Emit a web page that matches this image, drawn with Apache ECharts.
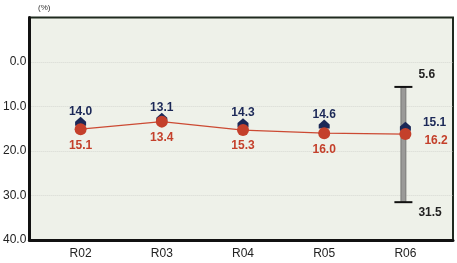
<!DOCTYPE html>
<html><head><meta charset="utf-8">
<script src="https://cdn.jsdelivr.net/npm/echarts@6/dist/echarts.min.js"></script>
<style>html,body{margin:0;padding:0;background:#fff}#c{width:457px;height:263px}</style>
</head><body><div id="c"></div>
<script>
const categories = ['R02','R03','R04','R05','R06'];
const blueValues = [14.0, 13.1, 14.3, 14.6, 15.1];
const redValues = [15.1, 13.4, 15.3, 16.0, 16.2];
const rangeLow = 5.6, rangeHigh = 31.5, rangeIndex = 4;
const yMin = -10, yMax = 40, yStep = 10;
const unitLabel = '(%)';

const FONT = '"Liberation Sans", Arial, sans-serif';
const navy = '#1b2857', red = '#c4402b';

const chart = echarts.init(document.getElementById('c'));
const last = categories.length - 1;
chart.setOption({
  animation: false,
  backgroundColor: '#fff',
  graphic: [{ type: 'text', left: 38, top: 4, style: { text: unitLabel, font: '8px ' + FONT, fill: '#333' } }],
  grid: [
    { left: 29, right: 4, top: 17.5, bottom: 23, show: true, backgroundColor: '#eef1e9', borderColor: '#1f2a1f', borderWidth: 2 },
    { left: 40, right: 11, top: 17.5, bottom: 23 }
  ],
  xAxis: [
    { gridIndex: 0, type: 'category', data: categories, axisLine: { onZero: false, lineStyle: { color: '#111', width: 3 } }, axisTick: { show: false }, axisLabel: { show: false } },
    { gridIndex: 1, type: 'category', data: categories, axisLine: { show: false, onZero: false }, axisTick: { show: false },
      axisLabel: { color: '#222', fontSize: 12, fontFamily: FONT, margin: 8 } }
  ],
  yAxis: [
    { gridIndex: 0, type: 'value', inverse: true, min: yMin, max: yMax, interval: yStep,
      axisLine: { show: true, onZero: false, lineStyle: { color: '#111', width: 3 } }, axisTick: { show: false },
      splitLine: { showMinLine: false, showMaxLine: false, lineStyle: { color: '#d6d8d2', type: 'dotted', width: 1 } },
      axisLabel: { color: '#222', fontSize: 12, fontFamily: FONT, margin: 3,
        formatter: v => v === yMin ? '' : v.toFixed(1) } },
    { gridIndex: 1, type: 'value', inverse: true, min: yMin, max: yMax, interval: yStep, show: false }
  ],
  series: [
    { type: 'custom', xAxisIndex: 1, yAxisIndex: 1, z: 1,
      data: [[rangeIndex, rangeLow, rangeHigh]],
      renderItem: (params, api) => {
        const top = api.coord([api.value(0), api.value(1)]);
        const bot = api.coord([api.value(0), api.value(2)]);
        const x = top[0] - 2;
        return { type: 'group', children: [
          { type: 'rect', shape: { x: x - 2.5, y: top[1], width: 5, height: bot[1] - top[1] }, style: { fill: '#9a9a98', stroke: '#6a6a68', lineWidth: 0.8 } },
          { type: 'line', shape: { x1: x - 9, y1: top[1], x2: x + 9, y2: top[1] }, style: { stroke: '#111', lineWidth: 2 } },
          { type: 'line', shape: { x1: x - 9, y1: bot[1], x2: x + 9, y2: bot[1] }, style: { stroke: '#111', lineWidth: 2 } },
          { type: 'text', x: x + 15, y: top[1] - 12, style: { text: rangeLow.toFixed(1), font: 'bold 12px ' + FONT, fill: '#222', textVerticalAlign: 'middle' } },
          { type: 'text', x: x + 15, y: bot[1] + 11, style: { text: rangeHigh.toFixed(1), font: 'bold 12px ' + FONT, fill: '#222', textVerticalAlign: 'middle' } }
        ] };
      }
    },
    { type: 'scatter', xAxisIndex: 1, yAxisIndex: 1, z: 3,
      symbol: 'path://M0,-6 L6,0 L6,5 L-6,5 L-6,0 Z', symbolSize: [11, 9], symbolOffset: [0, -3],
      itemStyle: { color: navy, opacity: 1 },
      data: blueValues.map((v, i) => ({ value: v,
        label: i === last ? { position: 'right', offset: [8, -4] } : {} })),
      label: { show: true, position: 'top', distance: 4, offset: [0, 5], color: navy, fontWeight: 'bold', fontSize: 12, fontFamily: FONT,
        formatter: p => p.value.toFixed(1) } },
    { type: 'line', xAxisIndex: 1, yAxisIndex: 1, z: 4,
      symbol: 'circle', symbolSize: 12, showAllSymbol: true,
      lineStyle: { color: '#cc4a33', width: 1.3 }, itemStyle: { color: red },
      data: redValues.map((v, i) => ({ value: v,
        label: i === last ? { position: 'right', offset: [9, 7] } : {} })),
      label: { show: true, position: 'bottom', distance: 4, color: red, fontWeight: 'bold', fontSize: 12, fontFamily: FONT,
        formatter: p => p.value.toFixed(1) } }
  ]
});
</script></body></html>
